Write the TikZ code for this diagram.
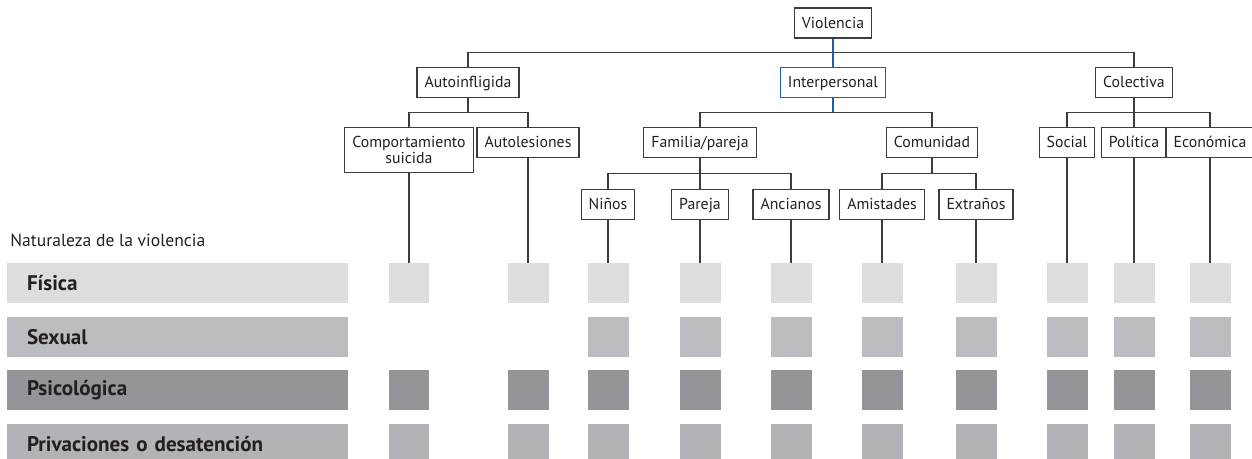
\documentclass[tikz,border=0pt]{standalone}
\usepackage{fontspec}
\setmainfont{PT Sans}
\usepackage{tikz}
\usetikzlibrary{positioning, calc}
\definecolor{lineclr}{RGB}{60, 60, 60}
\definecolor{txtclr}{RGB}{35, 31, 32}
\definecolor{whoblue}{RGB}{31, 95, 168}
\definecolor{fisclr}{RGB}{220, 221, 223}
\definecolor{sexclr}{RGB}{188, 189, 192}
\definecolor{psiclr}{RGB}{147, 149, 152}
\definecolor{privclr}{RGB}{178, 179, 182}
\tikzstyle{frame} = [
    draw=lineclr,
    line width=0.7pt,
    fill=white,
    text=txtclr,
    font=\fontsize{9}{9.5}\selectfont,
    inner xsep=0.15cm
]
\tikzstyle{box} = [
    frame,
    minimum height=0.6cm,
    text height=1.6ex,
    text depth=0.4ex
]
\tikzstyle{link} = [
    line width=0.7pt,
    color=lineclr
]
\tikzstyle{sq} = [
    minimum width=0.82cm,
    minimum height=0.8cm,
    inner sep=0
]
\tikzstyle{bar} = [
    minimum width=6.82cm,
    minimum height=0.8cm,
    text width=6.02cm,
    align=left,
    inner xsep=0.39cm,
    text=txtclr,
    font=\fontsize{12}{14}\selectfont\bfseries
]

\begin{document}
\begin{tikzpicture}[x=0.02cm, y=-0.02cm]
        \useasboundingbox (0, 0) rectangle (1252, 458);

        % Tree
        \node[box] (viol) at (833, 23) {Violencia};
        \node[box] (auto) at (468, 82.7) {Autoinfligida};
        \node[box, draw=whoblue] (inter) at (833, 82.7) {Interpersonal};
        \node[box] (colec) at (1134, 82.7) {Colectiva};

        \node[frame, align=center, minimum height=0.9cm] (suic) at (409, 150) {Comportamiento\\suicida};
        \node[box] (autol) at (528, 142.5) {Autolesiones};
        \node[box] (fam) at (700, 142.5) {Familia/pareja};
        \node[box] (comun) at (932, 142.5) {Comunidad};
        \node[box] (social) at (1067, 142.5) {Social};
        \node[box] (polit) at (1134, 142.5) {Política};
        \node[box] (econ) at (1210, 142.5) {Económica};

        \node[box] (ninos) at (608, 204.3) {Niños};
        \node[box] (pareja) at (700, 204.3) {Pareja};
        \node[box] (ancia) at (791, 204.3) {Ancianos};
        \node[box] (amist) at (882, 204.3) {Amistades};
        \node[box] (extr) at (976, 204.3) {Extraños};

        % Tree connectors
        \coordinate (lv1) at ($(viol.south)!.5!(inter.north)$);
        \coordinate (lv2) at ($(auto.south)!.5!(autol.north)$);
        \coordinate (lv3) at ($(fam.south)!.5!(ninos.north)$);
        \draw[link] (auto.north) |- (lv1) -| (colec.north);
        \draw[link, color=whoblue] (viol) -- (inter);
        \draw[link] (auto.south) -- (auto.south |- lv2);
        \draw[link] (suic.north) |- (autol.north |- lv2) -- (autol.north);
        \draw[link, color=whoblue] (inter.south) -- (inter.south |- lv2);
        \draw[link] (fam.north) |- (comun.north |- lv2) -- (comun.north);
        \draw[link] (colec.south) -- (colec.south |- lv2);
        \draw[link] (social.north) |- (econ.north |- lv2) -- (econ.north);
        \draw[link] (polit.north) -- (polit.north |- lv2);
        \draw[link] (fam.south) -- (fam.south |- lv3);
        \draw[link] (ninos.north) |- (ancia.north |- lv3) -- (ancia.north);
        \draw[link] (pareja.north) -- (pareja.north |- lv3);
        \draw[link] (comun.south) -- (comun.south |- lv3);
        \draw[link] (amist.north) |- (extr.north |- lv3) -- (extr.north);

        % Rows
        \node[anchor=west, inner sep=0, text=txtclr, font=\fontsize{10}{12}\selectfont] (natur) at (10, 240) {Naturaleza de la violencia};
        \node[bar, fill=fisclr] (fisica) at (177.5, 283) {Física};
        \node[bar, fill=sexclr] (sexual) at (177.5, 337) {Sexual};
        \node[bar, fill=psiclr] (psico) at (177.5, 390) {Psicológica};
        \node[bar, fill=privclr] (priv) at (177.5, 444) {Privaciones o desatención};

        % Fisica squares
        \node[sq, fill=fisclr] (f1) at (suic |- fisica) {};
        \node[sq, fill=fisclr] (f2) at (autol |- fisica) {};
        \node[sq, fill=fisclr] (f3) at (ninos |- fisica) {};
        \node[sq, fill=fisclr] (f4) at (pareja |- fisica) {};
        \node[sq, fill=fisclr] (f5) at (ancia |- fisica) {};
        \node[sq, fill=fisclr] (f6) at (amist |- fisica) {};
        \node[sq, fill=fisclr] (f7) at (extr |- fisica) {};
        \node[sq, fill=fisclr] (f8) at (social |- fisica) {};
        \node[sq, fill=fisclr] (f9) at (polit |- fisica) {};
        \node[sq, fill=fisclr] (f10) at (econ |- fisica) {};

        % Sexual squares
        \node[sq, fill=sexclr] (s3) at (ninos |- sexual) {};
        \node[sq, fill=sexclr] (s4) at (pareja |- sexual) {};
        \node[sq, fill=sexclr] (s5) at (ancia |- sexual) {};
        \node[sq, fill=sexclr] (s6) at (amist |- sexual) {};
        \node[sq, fill=sexclr] (s7) at (extr |- sexual) {};
        \node[sq, fill=sexclr] (s8) at (social |- sexual) {};
        \node[sq, fill=sexclr] (s9) at (polit |- sexual) {};
        \node[sq, fill=sexclr] (s10) at (econ |- sexual) {};

        % Psicologica squares
        \node[sq, fill=psiclr] (p1) at (suic |- psico) {};
        \node[sq, fill=psiclr] (p2) at (autol |- psico) {};
        \node[sq, fill=psiclr] (p3) at (ninos |- psico) {};
        \node[sq, fill=psiclr] (p4) at (pareja |- psico) {};
        \node[sq, fill=psiclr] (p5) at (ancia |- psico) {};
        \node[sq, fill=psiclr] (p6) at (amist |- psico) {};
        \node[sq, fill=psiclr] (p7) at (extr |- psico) {};
        \node[sq, fill=psiclr] (p8) at (social |- psico) {};
        \node[sq, fill=psiclr] (p9) at (polit |- psico) {};
        \node[sq, fill=psiclr] (p10) at (econ |- psico) {};

        % Privaciones squares
        \node[sq, fill=privclr] (d1) at (suic |- priv) {};
        \node[sq, fill=privclr] (d2) at (autol |- priv) {};
        \node[sq, fill=privclr] (d3) at (ninos |- priv) {};
        \node[sq, fill=privclr] (d4) at (pareja |- priv) {};
        \node[sq, fill=privclr] (d5) at (ancia |- priv) {};
        \node[sq, fill=privclr] (d6) at (amist |- priv) {};
        \node[sq, fill=privclr] (d7) at (extr |- priv) {};
        \node[sq, fill=privclr] (d8) at (social |- priv) {};
        \node[sq, fill=privclr] (d9) at (polit |- priv) {};
        \node[sq, fill=privclr] (d10) at (econ |- priv) {};

        % Leaf drops
        \draw[link] (suic) -- (f1);
        \draw[link] (autol) -- (f2);
        \draw[link] (ninos) -- (f3);
        \draw[link] (pareja) -- (f4);
        \draw[link] (ancia) -- (f5);
        \draw[link] (amist) -- (f6);
        \draw[link] (extr) -- (f7);
        \draw[link] (social) -- (f8);
        \draw[link] (polit) -- (f9);
        \draw[link] (econ) -- (f10);
    \end{tikzpicture}
\end{document}
